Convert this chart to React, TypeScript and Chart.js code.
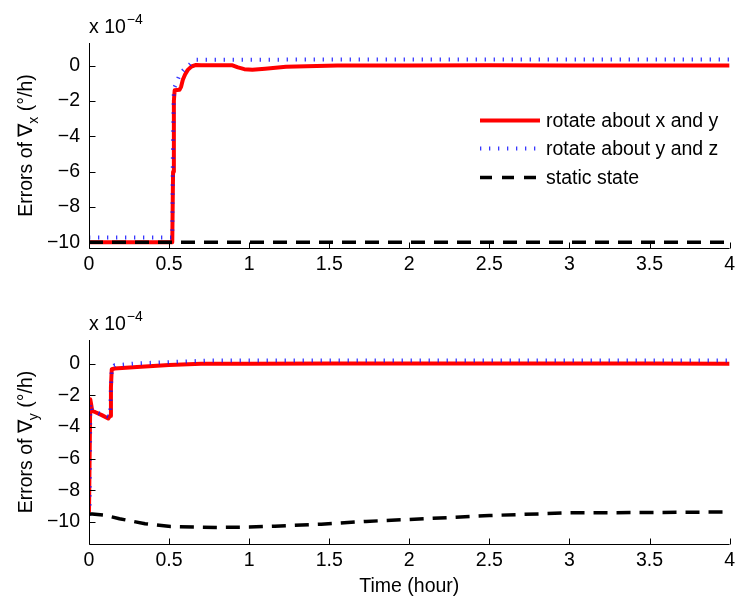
import React, { useEffect, useRef } from 'react';
import { Chart, registerables } from 'chart.js';

Chart.register(...registerables);

const FONT = '"Liberation Sans", Arial, Helvetica, sans-serif';
const FS = 19.5;

// ---- tick values ----
const xTickValues = [0, 0.5, 1, 1.5, 2, 2.5, 3, 3.5, 4];
const yTickValues = [-10, -8, -6, -4, -2, 0];

// ---- legend / labels ----
const seriesNames = ['rotate about x and y', 'rotate about y and z', 'static state'];
const xTitle = 'Time (hour)';

// ---- top panel (∇x) ----
const topRedX = [0, 0.52, 0.525, 0.53, 0.535, 0.565, 0.575, 0.586, 0.6, 0.617, 0.64, 0.669, 0.7, 0.8, 0.896, 0.93, 0.97, 1.02, 1.1, 1.23, 1.55, 2, 2.5, 3, 3.5, 4];
const topRedY = [-10, -10, -6, -2, -1.4, -1.37, -1.2, -0.8, -0.5, -0.24, -0.05, 0.04, 0.02, 0.02, 0.02, -0.1, -0.2, -0.24, -0.18, -0.07, 0, 0, 0.02, 0, 0, 0];

const topBlueX = [0, 0.52, 0.524, 0.53, 0.545, 0.566, 0.59, 0.617, 0.645, 0.67, 1, 1.5, 2, 2.5, 3, 3.5, 4];
const topBlueY = [-9.72, -9.72, -5, -1.3, -1.0, -0.52, -0.25, -0.05, 0.2, 0.33, 0.33, 0.35, 0.35, 0.35, 0.35, 0.35, 0.35];

const topBlackX = [0, 4];
const topBlackY = [-10, -10];

// ---- bottom panel (∇y) ----
const botRedX = [0, 0.004, 0.008, 0.014, 0.02, 0.037, 0.08, 0.12, 0.132, 0.137, 0.142, 0.16, 0.3, 0.5, 0.7, 1, 1.5, 2, 2.5, 3, 3.5, 4];
const botRedY = [-9.4, -9.4, -2.25, -2.6, -3.0, -3.05, -3.25, -3.46, -3.3, -1.5, -0.35, -0.3, -0.2, -0.08, 0, 0, 0.02, 0.02, 0.02, 0.02, 0.02, 0];

const botBlueX = [0, 0.004, 0.008, 0.014, 0.02, 0.037, 0.08, 0.12, 0.132, 0.137, 0.142, 0.16, 0.3, 0.5, 0.75, 1, 1.5, 2, 2.5, 3, 3.5, 4];
const botBlueY = [-9.5, -9.5, -2.5, -2.8, -3.0, -3.05, -3.2, -3.35, -3.2, -1.5, -0.25, -0.1, 0.02, 0.1, 0.2, 0.2, 0.2, 0.2, 0.2, 0.2, 0.2, 0.2];

const botBlackX = [0, 0.02, 0.1, 0.19, 0.35, 0.51, 0.8, 1.0, 1.16, 1.45, 1.73, 2.0, 2.5, 3.0, 3.5, 4];
const botBlackY = [-9.5, -9.5, -9.58, -9.8, -10.12, -10.3, -10.35, -10.33, -10.27, -10.15, -9.97, -9.85, -9.6, -9.43, -9.41, -9.37];

const toPts = (xs: number[], ys: number[]) => xs.map((x, i) => ({ x, y: ys[i] }));

const fmtY = (v: number) => (v < 0 ? '\u2212' + Math.abs(v) : String(v));

interface PanelCfg {
  red: { x: number; y: number }[];
  blue: { x: number; y: number }[];
  black: { x: number; y: number }[];
  yMin: number;
  yMax: number;
  sub: string;
  padTop: number;
  xHeight: number;
  legend: boolean;
  title: boolean;
}

const styles = [
  { color: 'rgb(255,0,0)', width: 4, dash: [] as number[] },
  { color: 'rgba(20,20,255,0.85)', width: 4, dash: [1.3, 7.7] },
  { color: 'rgb(0,0,0)', width: 3.5, dash: [14, 9] },
];

function makeDecorPlugin(cfg: PanelCfg) {
  return {
    id: 'decor',
    afterDraw(chart: any) {
      const ctx: CanvasRenderingContext2D = chart.ctx;
      const a = chart.chartArea;
      const xs = chart.scales.x;
      const ys = chart.scales.y;
      ctx.save();
      // axes lines
      ctx.strokeStyle = '#000';
      ctx.lineWidth = 1;
      ctx.setLineDash([]);
      const L = Math.round(a.left) + 0.5;
      const B = Math.round(a.bottom) + 0.5;
      ctx.beginPath();
      ctx.moveTo(L, a.top);
      ctx.lineTo(L, B);
      ctx.lineTo(a.right, B);
      ctx.stroke();
      // inward ticks
      ctx.beginPath();
      xTickValues.forEach((v) => {
        const px = Math.round(xs.getPixelForValue(v)) + 0.5;
        ctx.moveTo(px, B);
        ctx.lineTo(px, B - 6);
      });
      yTickValues.forEach((v) => {
        const py = Math.round(ys.getPixelForValue(v)) + 0.5;
        ctx.moveTo(L, py);
        ctx.lineTo(L + 6, py);
      });
      ctx.stroke();

      ctx.fillStyle = '#000';
      // exponent label
      ctx.textBaseline = 'alphabetic';
      ctx.textAlign = 'left';
      ctx.font = `${FS}px ${FONT}`;
      const ex = a.left;
      const ey = a.top - 10;
      ctx.fillText('x 10', ex, ey);
      const w10 = ctx.measureText('x 10').width;
      ctx.font = `14px ${FONT}`;
      ctx.fillText('\u22124', ex + w10 + 1, ey - 9);

      // y label with subscript
      const cy = (a.top + a.bottom) / 2;
      ctx.save();
      ctx.translate(31.5, cy);
      ctx.rotate(-Math.PI / 2);
      const p1 = 'Errors of \u2207';
      const p3 = ' (\u00b0/h)';
      ctx.font = `${FS}px ${FONT}`;
      const w1 = ctx.measureText(p1).width;
      const w3 = ctx.measureText(p3).width;
      ctx.font = `14px ${FONT}`;
      const w2 = ctx.measureText(cfg.sub).width;
      const total = w1 + w2 + w3;
      let x0 = -total / 2;
      ctx.font = `${FS}px ${FONT}`;
      ctx.fillText(p1, x0, 0);
      x0 += w1;
      ctx.font = `14px ${FONT}`;
      ctx.fillText(cfg.sub, x0, 6.5);
      x0 += w2;
      ctx.font = `${FS}px ${FONT}`;
      ctx.fillText(p3, x0, 0);
      ctx.restore();

      // x title
      if (cfg.title) {
        ctx.font = `${FS}px ${FONT}`;
        ctx.textAlign = 'center';
        ctx.fillText(xTitle, (a.left + a.right) / 2, chart.height - 4);
      }

      // legend
      if (cfg.legend) {
        const rowsY = [120.5, 148.5, 177.5];
        seriesNames.forEach((name, i) => {
          const st = styles[i];
          ctx.save();
          ctx.strokeStyle = st.color;
          ctx.lineWidth = st.width;
          ctx.lineCap = 'butt';
          ctx.setLineDash(i === 2 ? [12, 10] : st.dash);
          ctx.beginPath();
          ctx.moveTo(480, rowsY[i]);
          ctx.lineTo(540, rowsY[i]);
          ctx.stroke();
          ctx.restore();
          ctx.font = `${FS}px ${FONT}`;
          ctx.textAlign = 'left';
          ctx.textBaseline = 'alphabetic';
          ctx.fillStyle = '#000';
          ctx.fillText(name, 546, rowsY[i] + 6.5);
        });
      }
      ctx.restore();
    },
  };
}

function Panel({ cfg }: { cfg: PanelCfg }) {
  const ref = useRef<HTMLCanvasElement>(null);
  useEffect(() => {
    if (!ref.current) return;
    const mk = (data: any[], i: number, order: number) => ({
      label: seriesNames[i],
      data,
      borderColor: styles[i].color,
      backgroundColor: styles[i].color,
      borderWidth: styles[i].width,
      borderDash: styles[i].dash,
      borderCapStyle: 'butt',
      borderJoinStyle: 'round',
      pointRadius: 0,
      tension: 0,
      fill: false,
      order,
    });
    const chart = new Chart(ref.current, {
      type: 'line',
      data: {
        datasets: [mk(cfg.red, 0, 3), mk(cfg.blue, 1, 2), mk(cfg.black, 2, 1)] as any,
      },
      options: {
        animation: false,
        responsive: false,
        devicePixelRatio: 1,
        layout: { padding: { top: cfg.padTop, right: 7, left: 0, bottom: 0 } },
        plugins: { legend: { display: false }, tooltip: { enabled: false } },
        scales: {
          x: {
            type: 'linear',
            min: 0,
            max: 4,
            grid: { display: false, drawTicks: false },
            border: { display: false },
            afterBuildTicks: (s: any) => {
              s.ticks = xTickValues.map((v) => ({ value: v }));
            },
            afterFit: (s: any) => {
              s.height = cfg.xHeight;
            },
            ticks: {
              color: '#000',
              font: { family: FONT, size: FS },
              padding: 5,
              maxRotation: 0,
              autoSkip: false,
              callback: (v: any) => String(v),
            },
          },
          y: {
            type: 'linear',
            min: cfg.yMin,
            max: cfg.yMax,
            grid: { display: false, drawTicks: false },
            border: { display: false },
            afterBuildTicks: (s: any) => {
              s.ticks = yTickValues.map((v) => ({ value: v }));
            },
            afterFit: (s: any) => {
              s.width = 89;
            },
            ticks: {
              color: '#000',
              font: { family: FONT, size: FS },
              padding: 9,
              autoSkip: false,
              callback: (v: any) => fmtY(Number(v)),
            },
          },
        },
      } as any,
      plugins: [makeDecorPlugin(cfg)],
    });
    return () => chart.destroy();
  }, [cfg]);
  return <canvas ref={ref} width={740} height={298} style={{ display: 'block', width: 740, height: 298 }} />;
}

const topCfg: PanelCfg = {
  red: toPts(topRedX, topRedY),
  blue: toPts(topBlueX, topBlueY),
  black: toPts(topBlackX, topBlackY),
  yMin: -10.32,
  yMax: 1.28,
  sub: 'x',
  padTop: 43,
  xHeight: 50,
  legend: true,
  title: false,
};

const botCfg: PanelCfg = {
  red: toPts(botRedX, botRedY),
  blue: toPts(botBlueX, botBlueY),
  black: toPts(botBlackX, botBlackY),
  yMin: -11.4,
  yMax: 1.5,
  sub: 'y',
  padTop: 42,
  xHeight: 52,
  legend: false,
  title: true,
};

export default function App() {
  return (
    <div style={{ position: 'fixed', left: 0, top: 0, width: 740, height: 596, background: '#fff' }}>
      <Panel cfg={topCfg} />
      <Panel cfg={botCfg} />
    </div>
  );
}
